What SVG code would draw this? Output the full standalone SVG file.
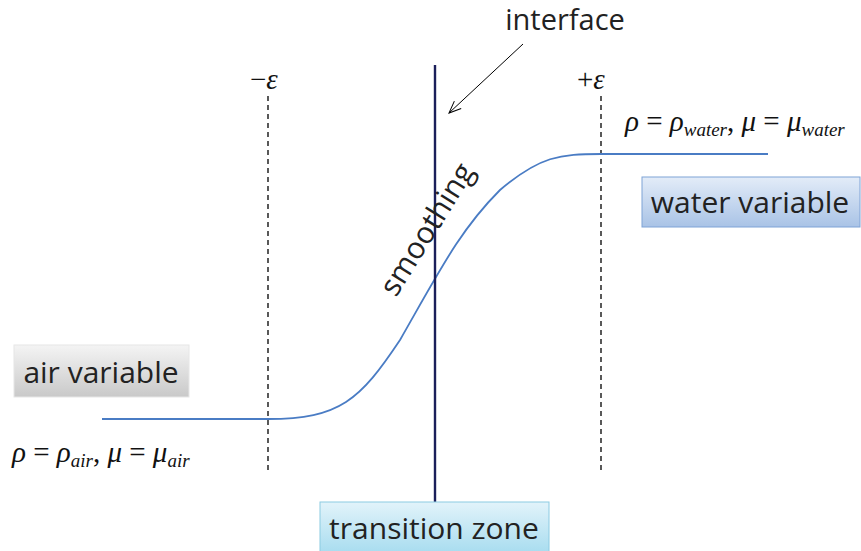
<svg xmlns="http://www.w3.org/2000/svg" width="861" height="551" viewBox="0 0 861 551">
<defs>
<linearGradient id="gWater" x1="0" y1="0" x2="0" y2="1"><stop offset="0" stop-color="#e3ecf8"/><stop offset="1" stop-color="#a9c3e6"/></linearGradient>
<linearGradient id="gAir" x1="0" y1="0" x2="0" y2="1"><stop offset="0" stop-color="#f4f4f4"/><stop offset="1" stop-color="#c9c9c9"/></linearGradient>
<linearGradient id="gTrans" x1="0" y1="0" x2="0" y2="1"><stop offset="0" stop-color="#e2f3fa"/><stop offset="1" stop-color="#a7dcef"/></linearGradient>
<marker id="arr" markerWidth="14" markerHeight="12" refX="13" refY="6" orient="auto" markerUnits="userSpaceOnUse"><path d="M1,1 L13,6 L1,11" fill="none" stroke="#000" stroke-width="1"/></marker>
</defs>
<style>
.lbl{font-family:"Open Sans","Liberation Sans",sans-serif;font-size:30px;fill:#222}
.math{font-size:29px;fill:#111}
.sub{font-size:19px;font-style:italic}
.it{font-style:italic}
.dash{stroke:#000;stroke-width:1.3;stroke-dasharray:5,4;fill:none}
</style>
<rect width="861" height="551" fill="#fff"/>
<g id="connectors">
<line class="dash" x1="268" y1="96" x2="268" y2="472"/>
<line class="dash" x1="601" y1="96" x2="601" y2="472"/>
<path d="M102,419 L268,419 C340,419 360,400 400,340 C440,270 460,230 500,190 C540,156 560,154 601,154 L768,154" fill="none" stroke="#4a7cc4" stroke-width="1.8"/>
<line x1="435" y1="65" x2="435" y2="503" stroke="#1b1f5a" stroke-width="2.4"/>
<line x1="523" y1="44" x2="449" y2="113" stroke="#000" stroke-width="1" marker-end="url(#arr)"/>
</g>
<g id="interface"><text class="lbl" x="565" y="30" font-size="29" style="font-size:29px" text-anchor="middle">interface</text></g>
<g id="smoothing"><text class="lbl" transform="translate(396,298) rotate(-58)">smoothing</text></g>
<g id="minus-eps"><text class="math" font-family="Liberation Serif, serif" x="250" y="89">−<tspan class="it">ε</tspan></text></g>
<g id="plus-eps"><text class="math" font-family="Liberation Serif, serif" x="577" y="89">+<tspan class="it">ε</tspan></text></g>
<g id="water-formula"><text class="math" font-family="Liberation Serif, serif" x="625" y="131"><tspan class="it">ρ</tspan> = <tspan class="it">ρ</tspan><tspan class="sub" dy="5">water</tspan><tspan dy="-5">, </tspan><tspan class="it">μ</tspan> = <tspan class="it">μ</tspan><tspan class="sub" dy="5">water</tspan></text></g>
<g id="air-formula"><text class="math" font-family="Liberation Serif, serif" x="12" y="462"><tspan class="it">ρ</tspan> = <tspan class="it">ρ</tspan><tspan class="sub" dy="5">air</tspan><tspan dy="-5">, </tspan><tspan class="it">μ</tspan> = <tspan class="it">μ</tspan><tspan class="sub" dy="5">air</tspan></text></g>
<g id="water-variable"><rect x="642" y="177" width="218" height="50" fill="url(#gWater)" stroke="#7ea3d6" stroke-width="1"/><text class="lbl" x="750" y="213" text-anchor="middle">water variable</text></g>
<g id="air-variable"><rect x="14" y="345" width="175" height="52" fill="url(#gAir)" stroke="#e6e6e6" stroke-width="1"/><text class="lbl" x="101" y="383" text-anchor="middle">air variable</text></g>
<g id="transition-zone"><rect x="320" y="502" width="229" height="52" fill="url(#gTrans)" stroke="#8ccbe2" stroke-width="1"/><text class="lbl" x="434" y="539" text-anchor="middle">transition zone</text></g>
</svg>
